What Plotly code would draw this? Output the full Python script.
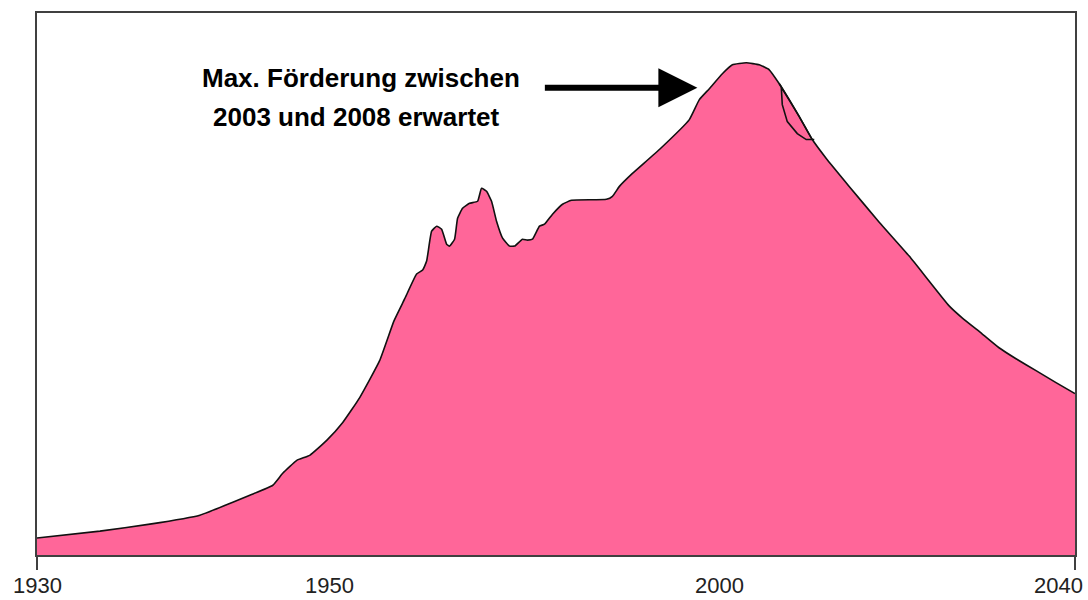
import plotly.graph_objects as go

# Production curve (relative units, 0-100)
years = [1930.0, 1936.67, 1941.96, 1947.26, 1950.75, 1952.55, 1954.99, 1956.04,
         1957.53, 1958.90, 1960.70, 1962.40, 1964.20, 1966.31, 1967.83, 1968.96,
         1970.23, 1970.87, 1971.29, 1971.82, 1972.35, 1972.88, 1973.41, 1973.72,
         1974.25, 1974.57, 1975.10, 1975.84, 1976.69, 1977.11, 1977.64, 1978.17,
         1978.70, 1979.34, 1980.08, 1980.61, 1981.45, 1981.98, 1982.51, 1983.25,
         1983.78, 1984.63, 1985.69, 1986.64, 1990.35, 1990.98, 1991.72, 1993.10,
         1995.96, 1999.13, 2000.19, 2001.25, 2002.63, 2003.69, 2005.17, 2006.54,
         2007.60, 2008.66, 2009.72, 2010.78, 2012.16, 2013.64, 2016.07, 2019.25,
         2022.43, 2026.66, 2028.04, 2030.15, 2031.95, 2033.75, 2035.87, 2037.99,
         2040.0]
production = [3.13, 4.41, 5.70, 7.35, 9.74, 11.03, 12.87, 15.07,
              17.46, 18.38, 21.14, 24.45, 29.05, 35.85, 43.20, 47.24,
              51.84, 52.57, 54.23, 59.74, 60.66, 60.11, 57.35, 56.99,
              58.27, 62.13, 63.97, 64.89, 65.26, 67.65, 67.10, 65.26,
              61.58, 58.46, 56.99, 56.99, 58.27, 58.09, 58.27, 60.66,
              61.03, 62.87, 64.71, 65.44, 65.63, 66.18, 68.01, 70.40,
              74.82, 80.33, 84.01, 86.03, 88.79, 90.44, 90.81, 90.44,
              89.52, 86.95, 84.01, 80.88, 76.65, 73.16, 68.01, 61.40,
              55.15, 45.96, 43.75, 40.81, 38.24, 36.21, 34.01, 31.80,
              29.78]

# Small highlighted lens near the peak
lens_years = [2008.66, 2008.87, 2008.98, 2009.51, 2010.57, 2011.52, 2012.37,
              2012.16, 2010.78, 2009.72, 2008.66]
lens_values = [86.95, 86.40, 83.09, 79.96, 77.76, 76.65, 76.65,
               76.65, 80.88, 84.01, 86.95]

tick_labels = ["1930", "1950", "2000", "2040"]
tick_label_pos = [1930.0, 1961.0, 2002.3, 2038.3]

note_line1 = "Max. Förderung zwischen"
note_line2 = "2003 und 2008 erwartet"

FONT = "Liberation Sans, Arial, sans-serif"

fig = go.Figure()
fig.add_trace(go.Scatter(
    x=years, y=production, mode="lines", fill="tozeroy",
    fillcolor="#FF6699", line=dict(color="#111111", width=1.6, shape="spline", smoothing=0.4),
    hoverinfo="skip", showlegend=False))
fig.add_trace(go.Scatter(
    x=lens_years, y=lens_values, mode="lines",
    line=dict(color="#111111", width=1.6),
    hoverinfo="skip", showlegend=False))

annotations = []
for lab, pos in zip(tick_labels, tick_label_pos):
    annotations.append(dict(
        x=pos, y=0, xref="x", yref="y", text=lab, showarrow=False,
        yanchor="top", yshift=-17, borderpad=0,
        font=dict(family=FONT, size=22, color="#222222")))

annotations.append(dict(
    x=1999.98, y=86.2, xref="x", yref="y", text="", showarrow=True,
    ax=-154, ay=0, axref="pixel", ayref="pixel",
    arrowhead=2, arrowsize=1.3, arrowwidth=6, arrowcolor="#000000"))
annotations.append(dict(
    x=1964.3, y=88.05, xref="x", yref="y", text="<b>" + note_line1 + "</b>",
    showarrow=False, font=dict(family=FONT, size=26, color="#000000"),
    xanchor="center", yanchor="middle"))
annotations.append(dict(
    x=1963.8, y=80.88, xref="x", yref="y", text="<b>" + note_line2 + "</b>",
    showarrow=False, font=dict(family=FONT, size=26, color="#000000"),
    xanchor="center", yanchor="middle"))

fig.update_layout(
    width=1088, height=600,
    margin=dict(l=37, r=12, t=11, b=45),
    paper_bgcolor="white", plot_bgcolor="white",
    showlegend=False,
    annotations=annotations,
    xaxis=dict(range=[1930, 2040], tickvals=[1930, 2040], ticktext=["", ""],
               ticks="outside", ticklen=13, tickwidth=2, tickcolor="#404040",
               showline=True, linecolor="#404040", linewidth=2, mirror=True,
               showgrid=False, zeroline=False, fixedrange=True),
    yaxis=dict(range=[0, 100], showticklabels=False, ticks="",
               showline=True, linecolor="#404040", linewidth=2, mirror=True,
               showgrid=False, zeroline=False, fixedrange=True),
)

fig.write_html("out.html", config={"displayModeBar": False},
               post_script="document.body.style.margin='0';document.body.style.overflow='hidden';")
